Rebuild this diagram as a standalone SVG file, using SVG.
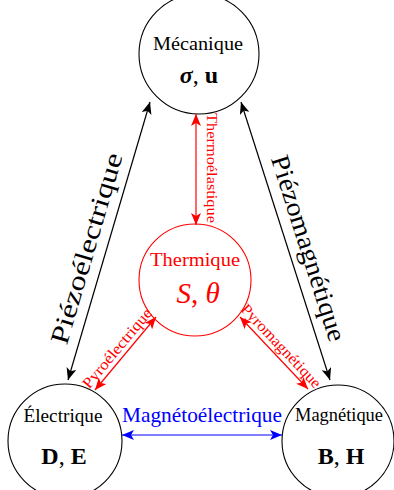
<svg xmlns="http://www.w3.org/2000/svg" width="394" height="490" viewBox="0 0 394 490">
<style>
  .node{fill:none;stroke:#000;stroke-width:1.1}
  .nodeR{fill:none;stroke:#f00;stroke-width:1.1}
  .lbl{font-family:"Liberation Serif",serif;font-size:18.5px;text-anchor:middle;fill:#000}
  .math{font-family:"Liberation Serif",serif;font-size:24px;font-weight:bold;text-anchor:middle;fill:#000}
  .ek{stroke:#000;stroke-width:1.2;fill:none;marker-start:url(#ahK);marker-end:url(#ahK)}
  .er{stroke:#f00;stroke-width:1.2;fill:none;marker-start:url(#ahR);marker-end:url(#ahR)}
  .eb{stroke:#00f;stroke-width:1.2;fill:none;marker-start:url(#ahB);marker-end:url(#ahB)}
  .big{font-family:"Liberation Serif",serif;font-size:26px;text-anchor:middle;fill:#000}
  .small{font-family:"Liberation Serif",serif;font-size:15.5px;text-anchor:middle;fill:#f00}
</style>
<defs>
  <marker id="ahK" markerUnits="userSpaceOnUse" markerWidth="12" markerHeight="10" viewBox="0 0 12 10" refX="12" refY="5" orient="auto-start-reverse"><path d="M0,0 L12,5 L0,10 L3,5 Z" fill="#000"/></marker>
  <marker id="ahR" markerUnits="userSpaceOnUse" markerWidth="12" markerHeight="10" viewBox="0 0 12 10" refX="12" refY="5" orient="auto-start-reverse"><path d="M0,0 L12,5 L0,10 L3,5 Z" fill="#f00"/></marker>
  <marker id="ahB" markerUnits="userSpaceOnUse" markerWidth="12" markerHeight="10" viewBox="0 0 12 10" refX="12" refY="5" orient="auto-start-reverse"><path d="M0,0 L12,5 L0,10 L3,5 Z" fill="#00f"/></marker>
</defs>

<g id="mecanique">
  <circle class="node" cx="199" cy="54" r="60"/>
  <text class="lbl" x="198" y="50" textLength="90" lengthAdjust="spacingAndGlyphs">Mécanique</text>
  <text class="math" x="199" y="83"><tspan font-style="italic">σ</tspan><tspan font-weight="normal">, </tspan>u</text>
</g>

<g id="thermique">
  <circle class="nodeR" cx="195" cy="280" r="56"/>
  <text class="lbl" x="195" y="266" style="fill:#f00" textLength="90" lengthAdjust="spacingAndGlyphs">Thermique</text>
  <text x="198" y="303" style="font-family:'Liberation Serif',serif;font-size:29px;font-style:italic;text-anchor:middle;fill:#f00">S<tspan font-style="normal">, </tspan>θ</text>
</g>

<g id="electrique">
  <circle class="node" cx="65" cy="441" r="57"/>
  <text class="lbl" x="63" y="422" textLength="79" lengthAdjust="spacingAndGlyphs">Électrique</text>
  <text class="math" x="64" y="464">D<tspan font-weight="normal">, </tspan>E</text>
</g>

<g id="magnetique">
  <circle class="node" cx="338" cy="441" r="56"/>
  <text class="lbl" x="339" y="421" textLength="88" lengthAdjust="spacingAndGlyphs">Magnétique</text>
  <text class="math" x="341" y="464">B<tspan font-weight="normal">, </tspan>H</text>
</g>

<g id="connectors">
  <line class="ek" x1="150" y1="102" x2="68" y2="380"/>
  <line class="ek" x1="241" y1="102" x2="330" y2="380"/>
  <line class="er" x1="196" y1="114" x2="196" y2="225"/>
  <line class="er" x1="156" y1="317" x2="95" y2="390"/>
  <line class="er" x1="240" y1="317" x2="308" y2="389"/>
  <line class="eb" x1="122" y1="435" x2="282" y2="435"/>
</g>

<g id="connector-labels">
  <text class="big" transform="translate(94.7,250.8) rotate(-73.56)" textLength="198" lengthAdjust="spacingAndGlyphs">Piézoélectrique</text>
  <text class="big" transform="translate(300.3,250.9) rotate(72.25)" textLength="194" lengthAdjust="spacingAndGlyphs">Piézomagnétique</text>
  <text class="small" transform="translate(207,168) rotate(90)" textLength="110" lengthAdjust="spacingAndGlyphs">Thermoélastique</text>
  <text class="small" transform="translate(121,351.5) rotate(-50.1)" textLength="99" lengthAdjust="spacingAndGlyphs">Pyroélectrique</text>
  <text class="small" transform="translate(277.5,349.5) rotate(46.6)" textLength="109" lengthAdjust="spacingAndGlyphs">Pyromagnétique</text>
  <text x="202" y="422" style="font-family:'Liberation Serif',serif;font-size:22px;text-anchor:middle;fill:#00f" textLength="160" lengthAdjust="spacingAndGlyphs">Magnétoélectrique</text>
</g>
</svg>
